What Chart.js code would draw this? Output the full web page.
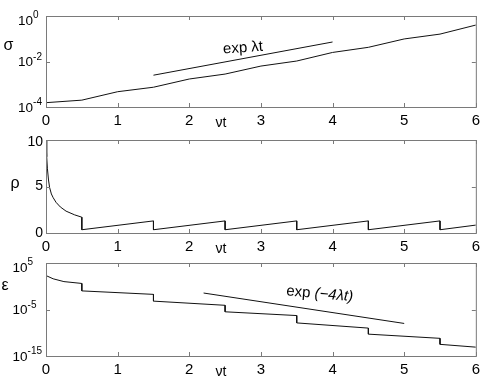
<!DOCTYPE html>
<html>
<head>
<meta charset="utf-8">
<script src="https://cdn.jsdelivr.net/npm/chart.js@4.4.1/dist/chart.umd.min.js"></script>
<style>
  html, body { margin: 0; padding: 0; background: #fff; }
  #wrap { position: relative; width: 485px; height: 378px; }
  canvas { position: absolute; left: 0; }
</style>
</head>
<body>
<div id="wrap">
  <canvas id="chart-sigma" width="485" height="132" style="top:0"></canvas>
  <canvas id="chart-rho" width="485" height="123" style="top:132px"></canvas>
  <canvas id="chart-eps" width="485" height="123" style="top:255px"></canvas>
</div>
<script>
const FONT = '"Liberation Sans", Arial, Helvetica, sans-serif';
const AXIS_COLOR = '#7a7a7a';
const LINE_COLOR = '#111';
const TICK_LEN = 4;

const T_TICKS = [0, 1, 2, 3, 4, 5, 6];

// sigma panel (log)
const SIGMA_T = [0, 0.5, 1, 1.5, 2, 2.5, 3, 3.5, 4, 4.5, 5, 5.5, 6];
const SIGMA = [1.55e-4, 2.0e-4, 4.7e-4, 7.4e-4, 1.7e-3, 2.8e-3, 6.3e-3, 1.05e-2, 0.025, 0.042, 0.098, 0.16, 0.40];
const SIGMA_REF_T = [1.5, 4];
const SIGMA_REF = [2.5e-3, 0.072];
const SIGMA_TICKS = [1e-4, 1e-2, 1];
const SIGMA_TICK_EXP = ['-4', '-2', '0'];

// rho panel (linear)
const RHO_T = [0, 0.01, 0.02, 0.035, 0.05, 0.075, 0.1, 0.14, 0.2, 0.28, 0.4, 0.5,
  0.5, 1.5, 1.5, 2.5, 2.5, 3.5, 3.5, 4.5, 4.5, 5.5, 5.5, 6];
const RHO = [10, 8.2, 6.9, 5.7, 4.9, 4.2, 3.8, 3.3, 2.8, 2.35, 1.95, 1.7,
  0.35, 1.3, 0.35, 1.3, 0.35, 1.3, 0.35, 1.3, 0.35, 1.3, 0.35, 0.85];
const RHO_TICKS = [0, 5, 10];
const RHO_TICK_LABELS = ['0', '5', '10'];

// epsilon panel (log)
const EPS_T = [0, 0.1, 0.25, 0.5, 0.5, 1.5, 1.5, 2.5, 2.5, 3.5, 3.5, 4.5, 4.5, 5.5, 5.5, 6];
const EPS = [2e2, 4e1, 1e1, 4, 1e-1, 1.8e-2, 6.3e-4, 8e-5, 3.2e-6, 5e-7, 1.3e-8, 1e-9, 5e-11, 6.3e-12, 3.2e-13, 8e-14];
const EPS_REF_T = [2.2, 5];
const EPS_REF = [3.5e-2, 1e-8];
const EPS_TICKS = [1e-15, 1e-5, 1e5];
const EPS_TICK_EXP = ['-15', '-5', '5'];

function toPoints(ts, vs) {
  return ts.map((t, i) => ({ x: t, y: vs[i] }));
}

// box, inward ticks, y tick labels and the free texts
const framePlugin = {
  id: 'frame',
  afterDatasetsDraw(chart, args, o) {
    const { ctx, chartArea: a } = chart;
    const xs = chart.scales.x;
    const ys = chart.scales.y;
    ctx.save();
    ctx.strokeStyle = AXIS_COLOR;
    ctx.lineWidth = 1;
    ctx.strokeRect(a.left + 0.5, a.top + 0.5, a.right - a.left, a.bottom - a.top);
    ctx.beginPath();
    xs.ticks.forEach(t => {
      const px = Math.round(xs.getPixelForValue(t.value)) + 0.5;
      ctx.moveTo(px, a.bottom); ctx.lineTo(px, a.bottom - TICK_LEN);
      ctx.moveTo(px, a.top); ctx.lineTo(px, a.top + TICK_LEN);
    });
    ys.ticks.forEach(t => {
      const py = Math.round(ys.getPixelForValue(t.value)) + 0.5;
      ctx.moveTo(a.left, py); ctx.lineTo(a.left + TICK_LEN, py);
      ctx.moveTo(a.right, py); ctx.lineTo(a.right - TICK_LEN, py);
    });
    ctx.stroke();

    ctx.fillStyle = '#000';
    ctx.textBaseline = 'middle';
    if (o.exps) {
      ctx.font = `13.5px ${FONT}`;
      const baseW = ctx.measureText('10').width;
      ctx.font = `10px ${FONT}`;
      const maxW = baseW + Math.max(...o.exps.map(e => ctx.measureText(e).width));
      const left = a.left - 4 - maxW;
      ctx.textAlign = 'left';
      ys.ticks.forEach((t, i) => {
        const py = ys.getPixelForValue(t.value);
        const cy = Math.max(py + 1, a.top + 5);
        ctx.font = `13.5px ${FONT}`;
        ctx.fillText('10', left, cy);
        ctx.font = `10px ${FONT}`;
        ctx.fillText(o.exps[i], left + baseW, cy - 5.5);
      });
    } else {
      ctx.textAlign = 'right';
      ctx.font = `14px ${FONT}`;
      ys.ticks.forEach((t, i) => {
        const py = ys.getPixelForValue(t.value);
        ctx.fillText(o.labels[i], a.left - 3, Math.max(py, a.top + 2));
      });
    }

    ctx.textBaseline = 'alphabetic';
    ctx.textAlign = 'center';
    ctx.font = `16px ${FONT}`;
    ctx.fillText(o.title, o.titleX, o.titleY);
    ctx.font = `14px ${FONT}`;
    ctx.fillText('\u03bdt', 221, a.bottom + 20);

    if (o.note) {
      const n = o.note;
      ctx.translate(xs.getPixelForValue(n.x), ys.getPixelForValue(n.y));
      ctx.rotate(n.angle * Math.PI / 180);
      ctx.textBaseline = 'middle';
      ctx.textAlign = 'left';
      ctx.font = `15px ${FONT}`;
      const w1 = ctx.measureText(n.text).width;
      ctx.font = `italic 15px ${FONT}`;
      const w2 = n.italic ? ctx.measureText(n.italic).width : 0;
      const x0 = -(w1 + w2) / 2;
      ctx.font = `15px ${FONT}`;
      ctx.fillText(n.text, x0, 0);
      if (n.italic) {
        ctx.font = `italic 15px ${FONT}`;
        ctx.fillText(n.italic, x0 + w1, 0);
      }
    }
    ctx.restore();
  },
};

function makeChart(id, cfg) {
  return new Chart(document.getElementById(id), {
    type: 'line',
    data: {
      datasets: cfg.series.map(d => ({
        data: d,
        borderColor: LINE_COLOR,
        borderWidth: 1,
        pointRadius: 0,
        tension: 0,
        fill: false,
      })),
    },
    options: {
      responsive: false,
      animation: false,
      events: [],
      layout: { padding: { top: cfg.top, right: 9, left: 0, bottom: 0 } },
      plugins: {
        legend: { display: false },
        tooltip: { enabled: false },
        frame: cfg.frame,
      },
      scales: {
        x: {
          type: 'linear',
          min: 0,
          max: 6,
          grid: { display: false, drawTicks: false },
          border: { display: false },
          afterBuildTicks: s => { s.ticks = T_TICKS.map(v => ({ value: v })); },
          afterFit: s => { s.height = cfg.xh; },
          ticks: {
            font: { family: FONT, size: 15 },
            color: '#000',
            padding: 5,
            maxRotation: 0,
            autoSkip: false,
          },
        },
        y: {
          type: cfg.yType,
          min: cfg.yMin,
          max: cfg.yMax,
          grid: { display: false, drawTicks: false },
          border: { display: false },
          afterBuildTicks: s => { s.ticks = cfg.yTicks.map(v => ({ value: v })); },
          afterFit: s => { s.width = 46; },
          ticks: { display: false },
        },
      },
    },
    plugins: [framePlugin],
  });
}

makeChart('chart-sigma', {
  top: 16, xh: 25,
  yType: 'logarithmic', yMin: 1e-4, yMax: 1, yTicks: SIGMA_TICKS,
  series: [toPoints(SIGMA_T, SIGMA), toPoints(SIGMA_REF_T, SIGMA_REF)],
  frame: {
    exps: SIGMA_TICK_EXP, title: '\u03c3', titleX: 8.5, titleY: 50,
    note: { x: 2.75, y: 0.039, angle: -4, text: 'exp \u03bbt' },
  },
});

makeChart('chart-rho', {
  top: 8, xh: 22,
  yType: 'linear', yMin: 0, yMax: 10, yTicks: RHO_TICKS,
  series: [toPoints(RHO_T, RHO)],
  frame: { labels: RHO_TICK_LABELS, title: '\u03c1', titleX: 15, titleY: 56 },
});

makeChart('chart-eps', {
  top: 8, xh: 22,
  yType: 'logarithmic', yMin: 1e-15, yMax: 1e5, yTicks: EPS_TICKS,
  series: [toPoints(EPS_T, EPS), toPoints(EPS_REF_T, EPS_REF)],
  frame: {
    exps: EPS_TICK_EXP, title: '\u03b5', titleX: 5, titleY: 35,
    note: { x: 3.82, y: 2.1e-2, angle: 5, text: 'exp ', italic: '(\u22124\u03bbt)' },
  },
});
</script>
</body>
</html>
